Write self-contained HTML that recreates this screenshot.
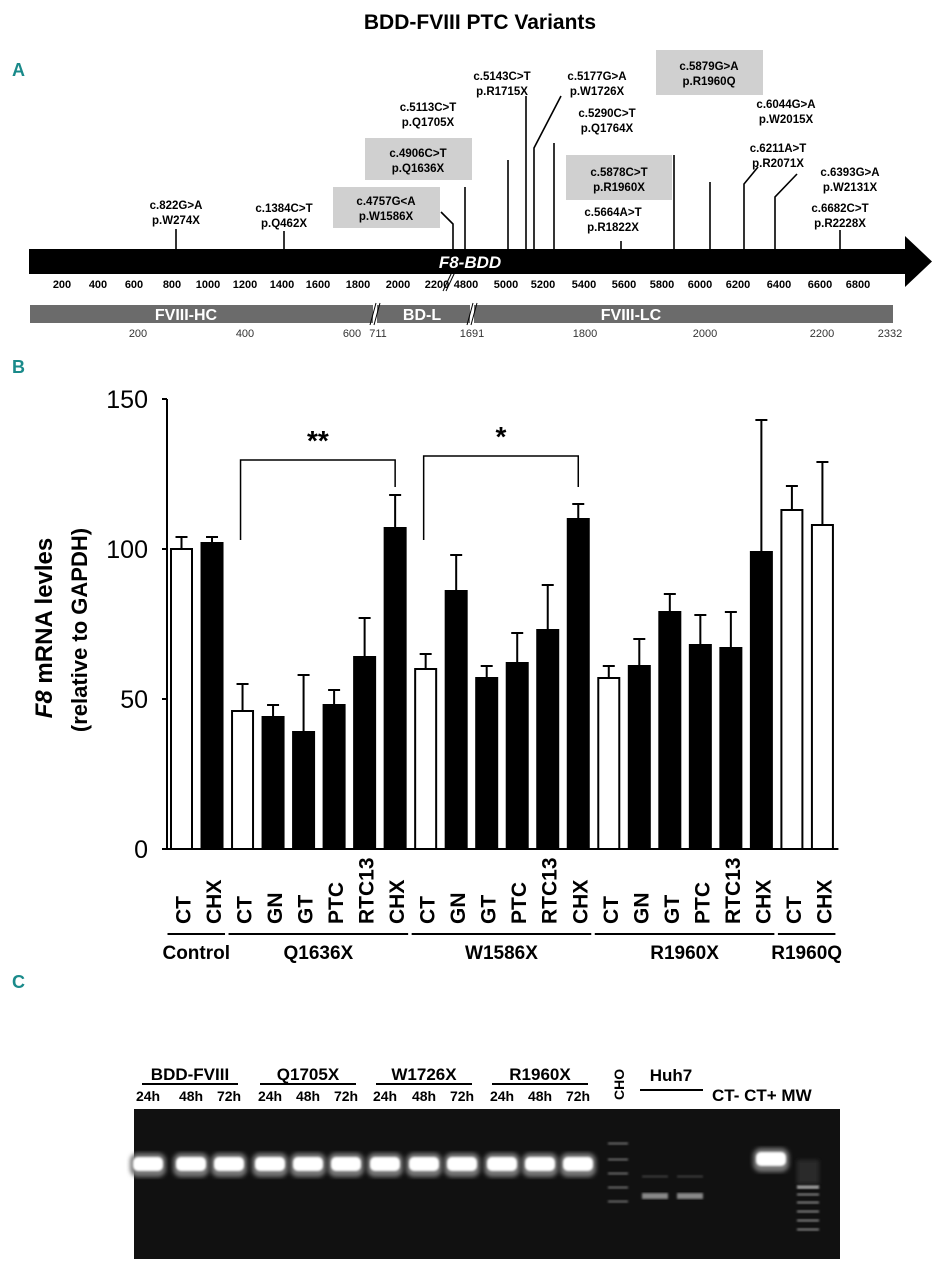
<!DOCTYPE html>
<html><head><meta charset="utf-8"><style>
html,body{margin:0;padding:0;background:#fff;}
svg{display:block;font-family:"Liberation Sans Narrow","Liberation Sans",sans-serif;}
.b{font-weight:bold;}
</style></head><body>
<svg id="fig" width="939" height="1280" viewBox="0 0 939 1280">
<defs><filter id="blur"><feGaussianBlur stdDeviation="2"/></filter><filter id="blur1"><feGaussianBlur stdDeviation="1"/></filter></defs>
<text x="480" y="29" text-anchor="middle" font-size="21" class="b" font-family="Liberation Sans">BDD-FVIII PTC Variants</text>
<text x="12" y="76" font-size="18" fill="#1a8a8a" class="b">A</text>
<text x="12" y="373" font-size="18" fill="#1a8a8a" class="b">B</text>
<text x="12" y="988" font-size="18" fill="#1a8a8a" class="b">C</text>

<g id="panelA">
<rect x="29" y="249" width="878" height="25" fill="#000"/>
<polygon points="905,236 932,261.5 905,287" fill="#000"/>
<text x="470" y="268" text-anchor="middle" fill="#fff" font-size="17" class="b" font-style="italic">F8-BDD</text>
<g id="nucTicks" font-size="11" class="b" text-anchor="middle"></g>
<line x1="443" y1="291" x2="452" y2="272" stroke="#000"/>
<line x1="446" y1="291" x2="455" y2="272" stroke="#000"/>
<rect x="30" y="305" width="863" height="18" fill="#6b6b6b"/>
<text x="186" y="320" text-anchor="middle" fill="#fff" font-size="16" class="b">FVIII-HC</text>
<text x="422" y="320" text-anchor="middle" fill="#fff" font-size="16" class="b">BD-L</text>
<text x="631" y="320" text-anchor="middle" fill="#fff" font-size="16" class="b">FVIII-LC</text>
<g stroke="#fff" stroke-width="4"><line x1="375" y1="303" x2="375" y2="325"/><line x1="472" y1="303" x2="472" y2="325"/></g>
<g stroke="#000"><line x1="370" y1="325" x2="376" y2="303"/><line x1="374" y1="325" x2="380" y2="303"/><line x1="467" y1="325" x2="473" y2="303"/><line x1="471" y1="325" x2="477" y2="303"/></g>
<g id="aaTicks" font-size="11" fill="#333" text-anchor="middle"></g>
<g id="muts" font-size="11.5" class="b" text-anchor="middle"></g>
</g>

<g id="panelB"></g>

<g id="panelC"></g>
</svg>
<script>
const NS="http://www.w3.org/2000/svg";
function mk(tag,attrs,parent,txt){const e=document.createElementNS(NS,tag);for(const k in attrs)e.setAttribute(k,attrs[k]);if(txt!==undefined)e.textContent=txt;parent.appendChild(e);return e;}

// ---- Panel A scales ----
const nucLabels=["200","400","600","800","1000","1200","1400","1600","1800","2000","2200","4800","5000","5200","5400","5600","5800","6000","6200","6400","6600","6800"];
const nucX=[62,98,134,172,208,245,282,318,358,398,437,466,506,543,584,624,662,700,738,779,820,858];
const nt=document.getElementById('nucTicks');
nucLabels.forEach((l,i)=>{const t=mk('text',{x:nucX[i],y:288},nt,l);

});
const aaLabels=["200","400","600","711","1691","1800","2000","2200","2332"];
const aaX=[138,245,352,378,472,585,705,822,890];
const at=document.getElementById('aaTicks');
aaLabels.forEach((l,i)=>{const t=mk('text',{x:aaX[i],y:337},at,l);

});

const muts=[
["c.822G>A","p.W274X",176,209,null,[[176,229],[176,249]]],
["c.1384C>T","p.Q462X",284,212,null,[[284,231],[284,249]]],
["c.4757G<A","p.W1586X",386,205,[333,187,107,41],[[441,212],[453,224],[453,249]]],
["c.4906C>T","p.Q1636X",418,157,[365,138,107,42],[[465,187],[465,249]]],
["c.5113C>T","p.Q1705X",428,111,null,[[508,160],[508,249]]],
["c.5143C>T","p.R1715X",502,80,null,[[526,96],[526,249]]],
["c.5177G>A","p.W1726X",597,80,null,[[561,96],[534,148],[534,249]]],
["c.5290C>T","p.Q1764X",607,117,null,[[554,143],[554,249]]],
["c.5664A>T","p.R1822X",613,216,null,[[621,241],[621,249]]],
["c.5878C>T","p.R1960X",619,176,[566,155,106,45],[[674,155],[674,249]]],
["c.5879G>A","p.R1960Q",709,70,[656,50,107,45],[[710,182],[710,249]]],
["c.6044G>A","p.W2015X",786,108,null,null],
["c.6211A>T","p.R2071X",778,152,null,[[758,167],[744,184],[744,249]]],
["c.6393G>A","p.W2131X",850,176,null,[[797,174],[775,197],[775,249]]],
["c.6682C>T","p.R2228X",840,212,null,[[840,230],[840,249]]]];
const mg=document.getElementById('muts');
muts.forEach(m=>{
 if(m[4]){const r=mk('rect',{x:m[4][0],y:m[4][1],width:m[4][2],height:m[4][3],fill:'#d0d0d0'},mg);
 
 }
 const t1=mk('text',{x:m[2],y:m[3]},mg,m[0]);
 
 
 const t2=mk('text',{x:m[2],y:m[3]+15},mg,m[1]);
 
 
 if(m[5]){const p=mk('polyline',{points:m[5].map(q=>q.join(',')).join(' '),fill:'none',stroke:'#000','stroke-width':1.6},mg);
 
 }
});

// ---- Panel B data ----
const categories=["CT","CHX","CT","GN","GT","PTC","RTC13","CHX","CT","GN","GT","PTC","RTC13","CHX","CT","GN","GT","PTC","RTC13","CHX","CT","CHX"];
const values=[100,102,46,44,39,48,64,107,60,86,57,62,73,110,57,61,79,68,67,99,113,108];
const errors=[4,2,9,4,19,5,13,11,5,12,4,10,15,5,4,9,6,10,12,44,8,21];
const filledFlags=[0,1,0,1,1,1,1,1,0,1,1,1,1,1,0,1,1,1,1,1,0,0];
const groups=["Control","Q1636X","W1586X","R1960X","R1960Q"];
const groupStart=[0,2,8,14,20];
const groupEnd=[1,7,13,19,21];
const yTicks=[0,50,100,150];

const B=document.getElementById('panelB');
const x0=181.5,dx=30.52,bw=21;
const xScale=i=>x0+i*dx;
const yScale=v=>849-v*3;
let e=mk('line',{x1:167,y1:yScale(150),x2:167,y2:849,stroke:'#000','stroke-width':2},B);

e=mk('line',{x1:162,y1:849,x2:xScale(21)+16,y2:849,stroke:'#000','stroke-width':2},B);

yTicks.forEach(v=>{
 const l=mk('line',{x1:162,y1:yScale(v),x2:167,y2:yScale(v),stroke:'#000','stroke-width':2},B);
 
 
 const t=mk('text',{x:148,y:yScale(v)+9,'text-anchor':'end','font-size':25,'font-family':'Liberation Sans'},B,String(v));
 
 
});
const yt=mk('text',{transform:'translate(52,628) rotate(-90)','text-anchor':'middle','font-size':24,'font-weight':'bold','font-family':'Liberation Sans'},B);


mk('tspan',{'font-style':'italic'},yt,'F8');mk('tspan',{},yt,' mRNA levles');
const yt2=mk('text',{transform:'translate(87,630) rotate(-90)','text-anchor':'middle','font-size':22,'font-weight':'bold','font-family':'Liberation Sans'},B,'(relative to GAPDH)');


values.forEach((v,i)=>{
 const cx=xScale(i),top=yScale(v);
 const r=mk('rect',{x:cx-bw/2,y:top,width:bw,height:849-top,fill:filledFlags[i]?'#000':'#fff',stroke:'#000','stroke-width':2},B);
 
 
 const et=yScale(v+errors[i]);
 const p=mk('path',{d:`M${cx},${top} V${et} M${cx-6},${et} H${cx+6}`,stroke:'#000','stroke-width':2,fill:'none'},B);
 
 
 const t=mk('text',{transform:`translate(${cx+9},924) rotate(-90)`,'font-size':21,'font-weight':'bold','font-family':'Liberation Sans'},B,categories[i]);
 
 
});
groups.forEach((g,k)=>{
 const a=xScale(groupStart[k])-14,b=xScale(groupEnd[k])+13;
 const l=mk('line',{x1:a,y1:934,x2:b,y2:934,stroke:'#000','stroke-width':2},B);
 
 
 const t=mk('text',{x:(a+b)/2,y:959,'text-anchor':'middle','font-size':19,'font-weight':'bold','font-family':'Liberation Sans'},B,g);
 
 
});
const br=[[2,7,460,540,487,'**'],[8,13,456,540,487,'*']];
br.forEach(q=>{
 const a=xScale(q[0])-2,b=xScale(q[1]);
 const p=mk('path',{d:`M${a},${q[3]} V${q[2]} H${b} V${q[4]}`,fill:'none',stroke:'#000','stroke-width':1.5},B);
 
 
 const t=mk('text',{x:(a+b)/2,y:q[2]-10,'text-anchor':'middle','font-size':28,'font-weight':'bold','font-family':'Liberation Sans'},B,q[5]);
 
 
});

// ---- Panel C gel ----
const C=document.getElementById('panelC');
const gelGroups=["BDD-FVIII","Q1705X","W1726X","R1960X"];
const gelGroupX=[190,308,424,540];
const laneX=[148,191,229,270,308,346,385,424,462,502,540,578];
const laneTimes=["24h","48h","72h","24h","48h","72h","24h","48h","72h","24h","48h","72h"];
gelGroups.forEach((g,i)=>{
 const t=mk('text',{x:gelGroupX[i],y:1080,'text-anchor':'middle','font-size':17,'font-weight':'bold'},C,g);
 
 
 const l=mk('line',{x1:gelGroupX[i]-48,y1:1084,x2:gelGroupX[i]+48,y2:1084,stroke:'#000','stroke-width':2},C);
 
 
});
laneTimes.forEach((s,i)=>{
 const t=mk('text',{x:laneX[i],y:1101,'text-anchor':'middle','font-size':14,'font-weight':'bold'},C,s);
 
 
});
let tt=mk('text',{transform:'translate(624,1100) rotate(-90)','font-size':14,'font-weight':'bold'},C,'CHO');

tt=mk('text',{x:671,y:1081,'text-anchor':'middle','font-size':17,'font-weight':'bold'},C,'Huh7');

e=mk('line',{x1:640,y1:1090,x2:703,y2:1090,stroke:'#000','stroke-width':2},C);

tt=mk('text',{x:712,y:1101,'font-size':17,'font-weight':'bold'},C,'CT- CT+ MW');

e=mk('rect',{x:134,y:1109,width:706,height:150,fill:'#111'},C);

laneX.concat([771]).forEach((x,i)=>{
 const y=i===12?1159:1164;
 const g=mk('rect',{x:x-18,y:y-11,width:36,height:24,rx:8,fill:'#777',filter:'url(#blur)'},C);
 
 const b=mk('rect',{x:x-15,y:y-7,width:30,height:14,rx:5,fill:'#fff',filter:'url(#blur1)'},C);
 
});
[1142,1158,1172,1186,1200].forEach(y=>{mk('rect',{x:608,y:y,width:20,height:3,fill:'#555',filter:'url(#blur1)'},C);});
[655,690].forEach(x=>{mk('rect',{x:x-13,y:1193,width:26,height:6,fill:'#888',filter:'url(#blur1)'},C);mk('rect',{x:x-13,y:1175,width:26,height:3,fill:'#333',filter:'url(#blur1)'},C);});
[1185,1193,1201,1210,1219,1228].forEach((y,i)=>{mk('rect',{x:797,y:y,width:22,height:i===0?4:3,fill:i===0?'#999':'#666',filter:'url(#blur1)'},C);});
mk('rect',{x:797,y:1160,width:22,height:24,fill:'#2a2a2a',filter:'url(#blur)'},C);
</script>
</body></html>
